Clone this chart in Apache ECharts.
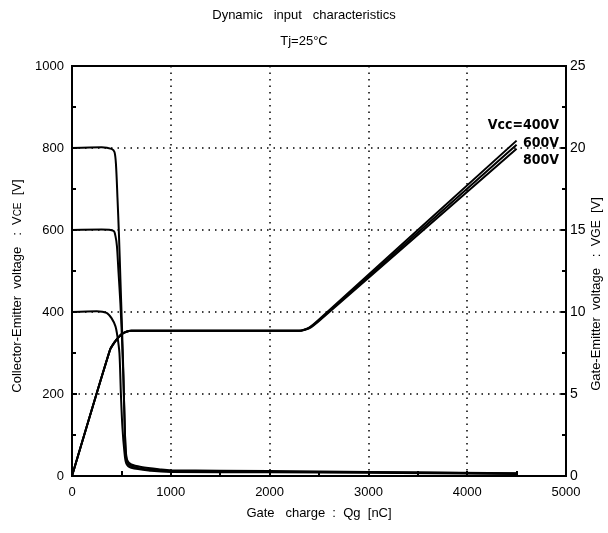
<!DOCTYPE html>
<html><head><meta charset="utf-8">
<script src="https://cdn.jsdelivr.net/npm/echarts@6/dist/echarts.min.js"></script>
<style>html,body{margin:0;padding:0;background:#fff;overflow:hidden}#c{width:608px;height:533px}</style>
</head><body><div id="c"></div>
<script>
// Collector-Emitter voltage curves (left axis, V) vs gate charge (nC)
var qVce800 = [0, 300, 400, 430, 445, 460, 475, 490, 505, 520, 535, 545, 560, 600, 700, 900, 1000, 2000, 3000, 4500];
var vce800  = [800, 802, 798, 790, 760, 680, 590, 480, 370, 250, 110, 60, 38, 28, 22, 16, 14, 12, 10, 7];
var qVce600 = [0, 300, 420, 440, 455, 470, 490, 505, 520, 535, 545, 560, 600, 700, 900, 1000, 2000, 3000, 4500];
var vce600  = [600, 601, 598, 585, 560, 500, 420, 340, 240, 110, 55, 33, 24, 18, 14, 12, 10, 9, 6];
var qVce400 = [0, 250, 350, 400, 440, 460, 480, 495, 510, 530, 550, 600, 800, 1000, 2000, 3000, 4500];
var vce400  = [400, 402, 398, 385, 365, 340, 300, 200, 120, 60, 30, 20, 13, 10, 9, 8, 5];
// Gate-Emitter voltage curves (right axis, V)
var qVge   = [0, 385, 430, 470, 510, 550, 600, 800, 1500, 2300, 2400, 2500, 4500];
var vge400 = [0, 7.7, 8.15, 8.45, 8.68, 8.8, 8.85, 8.85, 8.85, 8.85, 9.05, 9.55, 20.45];
var vge600 = [0, 7.7, 8.15, 8.45, 8.68, 8.8, 8.85, 8.85, 8.85, 8.85, 9.03, 9.5, 20.2];
var vge800 = [0, 7.7, 8.15, 8.45, 8.68, 8.8, 8.85, 8.85, 8.85, 8.85, 9.0, 9.45, 19.95];
var xTicks = [0, 1000, 2000, 3000, 4000, 5000];
var vccLabels = ['Vcc=400V', '600V', '800V'];

function pairs(xs, ys) { return xs.map(function (x, i) { return [x, ys[i]]; }); }
var FONT = 'Liberation Sans';
var lineS = { color: '#000', width: 2 };
function ser(name, xs, ys, yi, sm) {
  return { name: name, type: 'line', yAxisIndex: yi, data: pairs(xs, ys), showSymbol: false,
    smooth: sm, lineStyle: lineS, itemStyle: { color: '#000' }, animation: false };
}
var chart = echarts.init(document.getElementById('c'));
chart.setOption({
  animation: false,
  textStyle: { fontFamily: FONT },
  title: [
    { text: 'Dynamic   input   characteristics', left: 'center', top: 4, textStyle: { fontSize: 13, fontWeight: 'normal', color: '#000', fontFamily: FONT } },
    { text: 'Tj=25°C', left: 'center', top: 30, textStyle: { fontSize: 13, fontWeight: 'normal', color: '#000', fontFamily: FONT } }
  ],
  grid: { left: 72, right: 42, top: 66, bottom: 57, containLabel: false, outerBoundsMode: 'none',
    show: true, borderColor: '#000', borderWidth: 2, backgroundColor: 'transparent' },
  xAxis: {
    type: 'value', min: 0, max: 5000, interval: 1000,
    name: 'Gate   charge  :  Qg  [nC]', nameLocation: 'middle', nameGap: 31,
    nameTextStyle: { fontSize: 13, color: '#000' },
    axisLine: { lineStyle: { color: '#000', width: 2 } },
    axisTick: { inside: true, length: 5, lineStyle: { color: '#000', width: 2 } },
    minorTick: { show: true, splitNumber: 2, length: 5, lineStyle: { color: '#000', width: 2 } },
    axisLabel: { fontSize: 13, color: '#000', margin: 10, formatter: function (v) { return xTicks.indexOf(v) >= 0 ? String(v) : ''; } },
    splitLine: { show: true, lineStyle: { color: '#000', type: [1.5, 5], width: 1.5 } }
  },
  yAxis: [
    { type: 'value', min: 0, max: 1000, interval: 200, position: 'left',
      name: '{a|Collector-Emitter  voltage   :  V}{s|CE}{a|  [V]}', nameLocation: 'middle', nameGap: 47,
      nameTextStyle: { padding: [0, 30, 0, 0], rich: { a: { fontSize: 13, color: '#000', fontFamily: FONT }, s: { fontSize: 10, color: '#000', fontFamily: FONT, padding: [2, 0, 0, 0] } } },
      axisLine: { show: true, lineStyle: { color: '#000', width: 2 } },
      axisTick: { inside: true, length: 5, lineStyle: { color: '#000', width: 2 } },
      minorTick: { show: true, splitNumber: 2, length: 4, lineStyle: { color: '#000', width: 2 } },
      axisLabel: { fontSize: 13, color: '#000', margin: 8, formatter: function (v) { return String(v); } },
      splitLine: { show: true, lineStyle: { color: '#000', type: [1.5, 5], width: 1.5 } } },
    { type: 'value', min: 0, max: 25, interval: 5, position: 'right',
      name: '{a|Gate-Emitter  voltage   :  V}{s|GE}{a|  [V]}', nameLocation: 'middle', nameGap: 24, nameRotate: 90,
      nameMoveOverlap: false,
      nameTextStyle: { padding: [0, 46, 0, 0], rich: { a: { fontSize: 13, color: '#000', fontFamily: FONT }, s: { fontSize: 12, color: '#000', fontFamily: FONT } } },
      axisLine: { show: true, lineStyle: { color: '#000', width: 2 } },
      axisTick: { inside: true, length: 5, lineStyle: { color: '#000', width: 2 } },
      minorTick: { show: true, splitNumber: 2, length: 4, lineStyle: { color: '#000', width: 2 } },
      axisLabel: { fontSize: 14, color: '#000', margin: 4 },
      splitLine: { show: false } }
  ],
  series: [
    ser('VCE 800V', qVce800, vce800, 0, 0.3),
    ser('VCE 600V', qVce600, vce600, 0, 0.3),
    ser('VCE 400V', qVce400, vce400, 0, 0.3),
    ser('VGE 400V', qVge, vge400, 1, 0.2),
    ser('VGE 600V', qVge, vge600, 1, 0.2),
    ser('VGE 800V', qVge, vge800, 1, 0.2)
  ],
  graphic: [
    { type: 'text', right: 49, top: 118, style: { text: vccLabels[0], font: 'bold 14px "DejaVu Sans Condensed", "Liberation Sans Narrow", sans-serif', fill: '#000' } },
    { type: 'text', right: 49, top: 136, style: { text: vccLabels[1], font: 'bold 14px "DejaVu Sans Condensed", "Liberation Sans Narrow", sans-serif', fill: '#000' } },
    { type: 'text', right: 49, top: 153, style: { text: vccLabels[2], font: 'bold 14px "DejaVu Sans Condensed", "Liberation Sans Narrow", sans-serif', fill: '#000' } }
  ]
});
</script></body></html>
